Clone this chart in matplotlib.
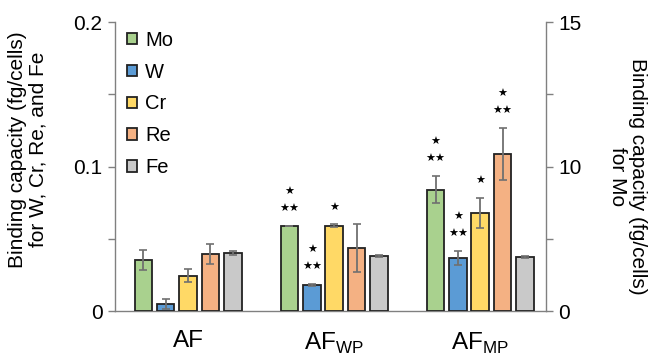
import matplotlib
matplotlib.use("Agg")
import matplotlib.pyplot as plt
import numpy as np

plt.rcParams['font.family'] = ['Liberation Sans', 'DejaVu Sans']

groups = ["AF", "AF$_{\\mathregular{WP}}$", "AF$_{\\mathregular{MP}}$"]
elements = ["Mo", "W", "Cr", "Re", "Fe"]
colors = ["#a9d18e", "#5b9bd5", "#ffd966", "#f4b183", "#c9c9c9"]

# Mo on the right axis (fg/cells); others on the left axis (fg/cells)
mo_vals = [3.55, 5.88, 8.40]
mo_err = [0.68, 0.03, 0.95]
w_vals = [0.0046, 0.0182, 0.0369]
w_err = [0.0035, 0.0007, 0.0048]
cr_vals = [0.0244, 0.0590, 0.0678]
cr_err = [0.0046, 0.0010, 0.0104]
re_vals = [0.0397, 0.0436, 0.1087]
re_err = [0.0069, 0.0164, 0.0182]
fe_vals = [0.0403, 0.0383, 0.0376]
fe_err = [0.0014, 0.0008, 0.0008]

# significance marks: 0 none, 1 "*", 2 "*" over "**"
sig_mo = [0, 2, 2]
sig_w = [0, 2, 2]
sig_cr = [0, 1, 1]
sig_re = [0, 0, 2]
sig_fe = [0, 0, 0]

fig = plt.figure(figsize=(6.51, 3.56), dpi=100)
ax = fig.add_axes([0.1767, 0.1264, 0.662, 0.8116])
ax2 = ax.twinx()

x = np.arange(len(groups))
step = 0.153
width = 0.12
mo_scale = 100.0  # right axis 0-20 maps onto left 0-0.2

series = [
    (mo_vals, mo_err, sig_mo, True),
    (w_vals, w_err, sig_w, False),
    (cr_vals, cr_err, sig_cr, False),
    (re_vals, re_err, sig_re, False),
    (fe_vals, fe_err, sig_fe, False),
]

handles = []
for i, (vals, errs, sigs, on_right) in enumerate(series):
    pos = x + (i - 2) * step
    target = ax2 if on_right else ax
    b = target.bar(pos, vals, width, color=colors[i], edgecolor="#222222",
                   linewidth=1.3, zorder=3, label=elements[i])
    target.errorbar(pos, vals, yerr=errs, fmt="none", ecolor="#707070",
                    elinewidth=1.3, capsize=3, capthick=1.2, zorder=4)
    handles.append(b)
    for p, v, e, s in zip(pos, vals, errs, sigs):
        if s == 0:
            continue
        top = v + e
        if s == 1:
            target.annotate("★", (p, top), xytext=(0, 12), textcoords="offset points",
                            ha="center", va="center", fontsize=8,
                            family="DejaVu Sans", zorder=5)
        else:
            target.annotate("★★", (p, top), xytext=(0, 12), textcoords="offset points",
                            ha="center", va="center", fontsize=8,
                            family="DejaVu Sans", zorder=5)
            target.annotate("★", (p, top), xytext=(0, 24.5), textcoords="offset points",
                            ha="center", va="center", fontsize=8,
                            family="DejaVu Sans", zorder=5)

ax.set_xlim(-0.5, 2.45)
ax.set_ylim(0, 0.2)
ax2.set_ylim(0, 0.2 * mo_scale)

ax.set_yticks([0, 0.05, 0.1, 0.15, 0.2])
ax.set_yticklabels(["0", "", "0.1", "", "0.2"])
ax2.set_yticks([0, 5, 10, 15, 20])
ax2.set_yticklabels(["0", "", "10", "", "15"])

ax.set_xticks(x)
ax.set_xticklabels(groups, fontsize=17.5)
ax.tick_params(axis="x", length=0, pad=14)
ax.tick_params(axis="y", length=5, width=1, color="#808080", labelsize=15, pad=4)
ax2.tick_params(axis="y", length=5, width=1, color="#808080", labelsize=15, pad=4)

for a in (ax, ax2):
    a.spines["top"].set_visible(False)
    for s in ("left", "right", "bottom"):
        a.spines[s].set_color("#808080")
        a.spines[s].set_linewidth(1)
ax.spines["right"].set_visible(False)
ax2.spines["left"].set_visible(False)
ax2.spines["bottom"].set_visible(False)

ax.set_ylabel("Binding capacity (fg/cells)\nfor W, Cr, Re, and Fe", fontsize=15,
              labelpad=19, linespacing=1.05)
ax.yaxis.label.set_y(0.56)
ax2.set_ylabel("Binding capacity (fg/cells)\nfor Mo", fontsize=15, rotation=270,
               labelpad=47, linespacing=1.05)
ax2.yaxis.label.set_y(0.467)

leg = ax.legend(handles=handles, labels=elements, loc="upper left",
                bbox_to_anchor=(0.0, 1.012), frameon=False, fontsize=14.5,
                handlelength=0.5, handleheight=0.5, handletextpad=0.4,
                labelspacing=0.64, borderaxespad=0.2)
leg.set_zorder(10)

fig.savefig("out.png", dpi=100)
